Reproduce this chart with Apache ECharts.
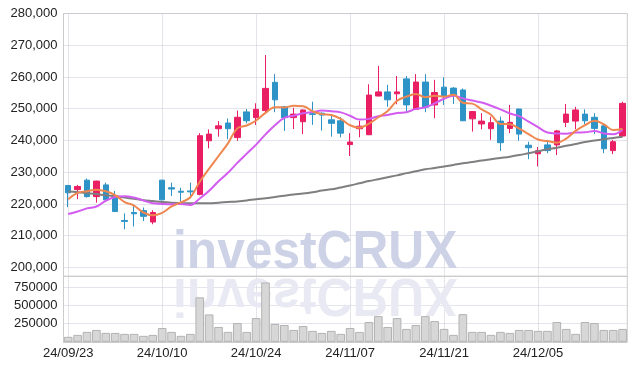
<!DOCTYPE html>
<html><head><meta charset="utf-8">
<script src="https://cdn.jsdelivr.net/npm/echarts/dist/echarts.min.js"></script>
<style>html,body{margin:0;padding:0;background:#fff}#c{width:637px;height:370px}</style>
</head><body><div id="c"></div>
<script>
const dates = ['24/09/23','24/09/24','24/09/25','24/09/26','24/09/27','24/09/30','24/10/02','24/10/04','24/10/07','24/10/08',
'24/10/10','24/10/11','24/10/14','24/10/15','24/10/16','24/10/17','24/10/18','24/10/21','24/10/22','24/10/23',
'24/10/24','24/10/25','24/10/28','24/10/29','24/10/30','24/10/31','24/11/01','24/11/04','24/11/05','24/11/06',
'24/11/07','24/11/08','24/11/11','24/11/12','24/11/13','24/11/14','24/11/15','24/11/18','24/11/19','24/11/20',
'24/11/21','24/11/22','24/11/25','24/11/26','24/11/27','24/11/28','24/11/29','24/12/02','24/12/03','24/12/04',
'24/12/05','24/12/06','24/12/09','24/12/10','24/12/11','24/12/12','24/12/13','24/12/16','24/12/17','24/12/18'];
const opens = [225800,224500,227500,222300,226000,222500,214800,217300,217900,214300,
227500,225100,224000,224100,223000,239900,243700,245500,240900,249000,
247200,249400,258300,250600,247200,245900,248400,248600,246500,246200,
238700,243700,241800,254000,255300,254700,259400,249800,258400,251200,
256800,256500,255900,246800,245200,243700,246100,243800,249900,238500,
235800,238600,238600,245700,246100,248300,247300,244600,236800,241400];
const closes = [223500,225500,222300,227200,221300,217600,214500,216900,216100,217300,
221300,224700,223700,223800,241500,242000,244600,243700,247300,246200,
249800,256400,252800,247200,248300,249600,248200,248000,245400,242300,
239500,244500,254300,255300,252800,255300,251200,258400,250500,255100,
253800,254200,246200,249100,246100,245600,239300,245700,242000,237700,
236800,236800,243000,248300,249600,246200,243800,237400,239600,251700];
const lows = [219000,221500,222000,220400,221000,217500,212000,212900,214600,213600,
221100,222500,220700,221800,222700,237500,241200,240400,239900,245400,
244900,248600,248900,243000,243600,242000,244900,243100,241200,241000,
235100,241000,241700,253900,250600,251400,248900,249600,248900,247000,
251200,251500,246100,242800,243500,240200,236700,242300,239900,234100,
231800,236000,235400,244200,243500,245100,242000,236000,235700,241200];
const highs = [226000,226000,228000,227300,226700,224100,217000,219700,218900,218000,
227600,226700,225100,226700,242300,243500,246100,246900,249400,249900,
251700,266900,260900,250900,250300,249800,252200,248800,247700,247400,
242300,246200,257700,263500,257500,260300,260300,260900,260900,259100,
259900,256800,256400,249300,248600,247500,247500,251200,250000,239600,
237900,240200,243300,251500,250600,249800,248600,245400,240200,252200];
const volumes = [68000,95000,136000,163000,122000,122000,109000,109000,82000,95000,
190000,136000,82000,109000,611000,376000,204000,136000,258000,136000,
326000,815000,245000,231000,163000,217000,150000,122000,150000,109000,
190000,136000,272000,353000,204000,326000,177000,231000,353000,285000,
177000,95000,380000,136000,136000,95000,136000,122000,163000,163000,
150000,150000,272000,177000,109000,272000,258000,163000,163000,177000];
const ma5 = [221500,223500,224000,224500,224000,222800,220600,219500,217300,216400,
217200,219200,220500,222100,227000,231100,235100,239100,243800,244700,
246300,248700,250500,250400,250900,250800,249200,248300,248000,246800,
244800,244000,245300,247300,249300,252500,253800,254600,253600,254100,
253800,254400,251900,251600,249800,248100,245200,245100,243700,242000,
240300,239800,239300,240600,243000,244800,246200,245100,243300,243700];
const ma10 = [216800,217600,218600,219200,221000,222200,222400,222000,221100,220200,
220000,219900,220000,219700,221700,224150,227150,229800,232950,235850,
238700,241900,244800,247100,247800,248550,248950,249400,249200,248850,
247800,246600,246800,247650,248050,248650,248900,249950,250450,251700,
253150,254100,253250,252600,251950,250950,249800,248500,247650,245900,
244200,242500,242200,242150,242500,242550,243000,242200,241950,243350];
const ma60 = [223900,223700,223400,223100,222700,222400,222000,221600,221200,220900,
220600,220400,220300,220200,220200,220200,220400,220600,220800,221100,
221500,221800,222200,222600,223000,223300,223700,224200,224600,225200,
225800,226500,227200,227800,228400,229000,229700,230300,230900,231300,
231800,232300,232800,233200,233700,234100,234500,234900,235400,236000,
236600,237200,237700,238300,238900,239500,240000,240400,240800,241200];
const priceMin = 197200, priceMax = 280000, priceStep = 10000;
const volMax = 900000, volStep = 250000;
const watermark = 'investCRUX';

const candleData = dates.map((d, i) => [opens[i], closes[i], lows[i], highs[i]]);
const FONT = '"Liberation Sans", Arial, sans-serif';
const dotted = { show: true, lineStyle: { color: '#c9cbd8', type: 'dotted', width: 1 } };
const vSplit = { show: true, interval: 9, alignWithLabel: true, lineStyle: { color: '#c9cbd8', type: 'dotted', width: 1 } };
const labelStyle = { color: '#222', fontSize: 13, fontFamily: FONT };
const chart = echarts.init(document.getElementById('c'), null, { renderer: 'canvas' });
const lineS = (data, color, w) => ({ type: 'line', xAxisIndex: 0, yAxisIndex: 0, data, smooth: 0.4, symbol: 'none', silent: true,
  lineStyle: { color, width: w }, emphasis: { disabled: true }, z: 3 });
chart.setOption({
  animation: false,
  backgroundColor: '#fff',
  grid: [
    { left: 63.5, right: 9.7, top: 13.5, height: 262.8, show: true, borderColor: '#cccccc', borderWidth: 1 },
    { left: 63.5, right: 9.7, top: 276.3, height: 65.5, show: true, borderColor: '#cccccc', borderWidth: 1 }
  ],
  xAxis: [
    { type: 'category', data: dates, gridIndex: 0, boundaryGap: true,
      axisLine: { show: true, lineStyle: { color: '#cccccc' } }, axisTick: { show: false }, axisLabel: { show: false },
      splitLine: vSplit },
    { type: 'category', data: dates, gridIndex: 1, boundaryGap: true,
      axisLine: { show: true, lineStyle: { color: '#cccccc' } }, axisTick: { show: false },
      axisLabel: Object.assign({ interval: 9, margin: 5 }, labelStyle),
      splitLine: vSplit }
  ],
  yAxis: [
    { type: 'value', gridIndex: 0, min: priceMin, max: priceMax, splitNumber: 8, minInterval: priceStep, maxInterval: priceStep,
      axisLine: { show: true, lineStyle: { color: '#cccccc' } }, axisTick: { show: false },
      axisLabel: Object.assign({ showMinLabel: false, margin: 6,
        formatter: v => String(Math.round(v)).replace(/\B(?=(\d{3})+(?!\d))/g, ',') }, labelStyle),
      splitLine: dotted },
    { type: 'value', gridIndex: 1, min: 0, max: volMax, interval: volStep,
      axisLine: { show: true, lineStyle: { color: '#cccccc' } }, axisTick: { show: false },
      axisLabel: Object.assign({ showMinLabel: false, showMaxLabel: false, margin: 6, formatter: v => String(v) }, labelStyle),
      splitLine: dotted }
  ],
  graphic: [
    { type: 'text', x: 173, y: 253, z: 1, scaleX: 0.92, silent: true,
      style: { text: watermark, fill: '#cdd2e6', font: 'bold 54px ' + FONT, verticalAlign: 'middle', align: 'left' } },
    { type: 'text', x: 173, y: 294, z: 1, scaleX: 0.92, scaleY: -1, silent: true,
      style: { text: watermark, fill: '#e8e9f3', font: 'bold 54px ' + FONT, verticalAlign: 'middle', align: 'left' } }
  ],
  series: [
    { type: 'candlestick', xAxisIndex: 0, yAxisIndex: 0, data: candleData, barWidth: 6, silent: true,
      itemStyle: { color: '#e91e63', color0: '#2e93c6', borderColor: '#e91e63', borderColor0: '#2e93c6', borderWidth: 1 } },
    lineS(ma60, '#7f7f7f', 2),
    lineS(ma10, '#d35cf0', 2),
    lineS(ma5, '#ef8750', 2),
    { type: 'bar', xAxisIndex: 1, yAxisIndex: 1, data: volumes, barCategoryGap: '8%', silent: true,
      itemStyle: { color: '#d7d7d7', borderColor: '#b3b3b3', borderWidth: 1 } }
  ]
});
</script></body></html>
